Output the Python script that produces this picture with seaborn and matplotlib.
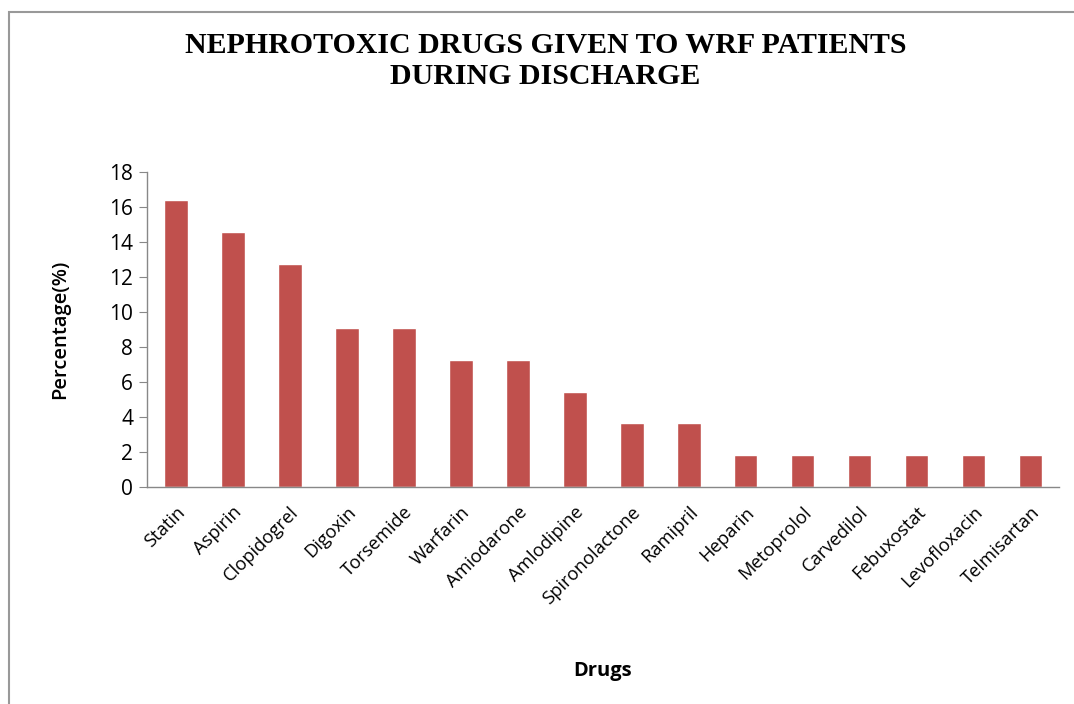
import matplotlib
matplotlib.use("Agg")
import matplotlib.pyplot as plt
import seaborn as sns
import pandas as pd

drugs = ["Statin", "Aspirin", "Clopidogrel", "Digoxin", "Torsemide", "Warfarin",
         "Amiodarone", "Amlodipine", "Spironolactone", "Ramipril", "Heparin",
         "Metoprolol", "Carvedilol", "Febuxostat", "Levofloxacin", "Telmisartan"]
percent = [16.4, 14.55, 12.73, 9.09, 9.09, 7.27, 7.27, 5.45, 3.64, 3.64,
           1.82, 1.82, 1.82, 1.82, 1.82, 1.82]
y_ticks = [0, 2, 4, 6, 8, 10, 12, 14, 16, 18]

df = pd.DataFrame({"drug": drugs, "pct": percent})

sns.set_style("white", {"text.color": "black", "axes.labelcolor": "black",
                        "xtick.color": "black", "ytick.color": "black"})
plt.rcParams["font.family"] = ["Open Sans", "DejaVu Sans"]

fig = plt.figure(figsize=(10.74, 7.04), dpi=100)
ax = fig.add_axes([0.137, 0.308, 0.849, 0.448])

sns.barplot(data=df, x="drug", y="pct", color="#C0504D", width=0.42,
            saturation=1, ax=ax)

ax.set_ylim(0, 18)
ax.set_xlim(-0.5, len(drugs) - 0.5)
ax.set_yticks(y_ticks)
ax.tick_params(axis="y", which="both", left=True, length=6, color="#888888",
               labelcolor="black", labelsize=15, pad=4, direction="out")
ax.tick_params(axis="x", bottom=False, labelcolor="black", labelsize=13.2, pad=8)
plt.setp(ax.get_xticklabels(), rotation=45, ha="right", rotation_mode="anchor")

for s in ["top", "right"]:
    ax.spines[s].set_visible(False)
for s in ["left", "bottom"]:
    ax.spines[s].set_color("#888888")
    ax.spines[s].set_linewidth(1)

ax.set_xlabel("Drugs", fontsize=14.5, fontweight="bold", color="black")
ax.set_ylabel("Percentage(%)", fontsize=14.5, fontweight="semibold", color="black")
ax.xaxis.set_label_coords(0.5, -0.55)
ax.yaxis.set_label_coords(-0.085, 0.5)

fig.text(0.508, 0.913, "NEPHROTOXIC DRUGS GIVEN TO WRF PATIENTS\nDURING DISCHARGE",
         ha="center", va="center", fontsize=21.5, fontweight="bold", color="black",
         family=["Liberation Serif", "DejaVu Serif"], linespacing=1.2)

border = plt.Rectangle((0.008, -0.01), 1.1, 0.993, transform=fig.transFigure,
                       fill=False, edgecolor="#999999", linewidth=1.5)
fig.patches.append(border)

fig.savefig("out.png", dpi=100)
